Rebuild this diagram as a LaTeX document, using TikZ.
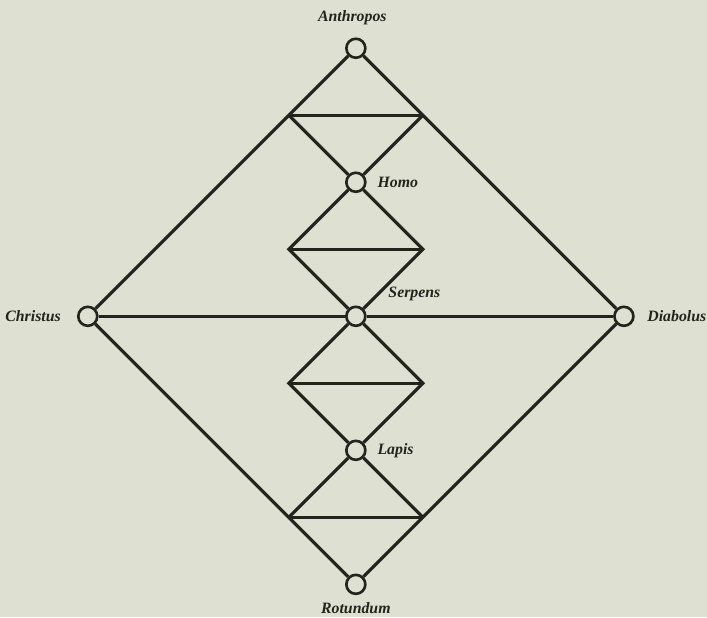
\documentclass[tikz,border=0pt]{standalone}
\usepackage{xcolor}
\usepackage{fontspec}
\setmainfont{Liberation Serif}
\usepackage{tikz}
\usetikzlibrary{positioning}
\definecolor{paper}{RGB}{222,224,210}
\definecolor{ink}{RGB}{36,36,30}

\begin{document}
\begin{tikzpicture}[x=1.34cm, y=1.34cm,
    point/.style={circle, draw=ink, fill=paper, line width=1.5pt, minimum size=0.38cm, inner sep=0pt},
    lbl/.style={font=\fontsize{9}{10}\selectfont\bfseries\itshape, text=ink, inner sep=1pt},
    edge/.style={line width=1.8pt, color=ink}
]
\fill[paper] (-5.31,-4.49) rectangle (5.24,4.72);
\useasboundingbox (-5.31,-4.49) rectangle (5.24,4.72);

\node[point] (anth)   at (0,4)  {};
\node[point] (homo)   at (0,2)  {};
\node[point] (serp)   at (0,0)  {};
\node[point] (lapis)  at (0,-2) {};
\node[point] (rotund) at (0,-4) {};
\node[point] (christ) at (-4,0) {};
\node[point] (diab)   at (4,0)  {};

\coordinate (tl)  at (-1,3);
\coordinate (tr)  at (1,3);
\coordinate (ml1) at (-1,1);
\coordinate (mr1) at (1,1);
\coordinate (ml2) at (-1,-1);
\coordinate (mr2) at (1,-1);
\coordinate (bl)  at (-1,-3);
\coordinate (br)  at (1,-3);

% outer diamond
\draw[edge] (anth) -- (tl) -- (christ);
\draw[edge] (anth) -- (tr) -- (diab);
\draw[edge] (christ) -- (bl) -- (rotund);
\draw[edge] (diab) -- (br) -- (rotund);
\draw[edge] (christ) -- (serp);
\draw[edge] (serp) -- (diab);

% inner chain
\draw[edge] (tl) -- (tr);
\draw[edge] (tl) -- (homo);
\draw[edge] (tr) -- (homo);
\draw[edge] (homo) -- (ml1) -- (serp);
\draw[edge] (homo) -- (mr1) -- (serp);
\draw[edge] (ml1) -- (mr1);
\draw[edge] (serp) -- (ml2) -- (lapis);
\draw[edge] (serp) -- (mr2) -- (lapis);
\draw[edge] (ml2) -- (mr2);
\draw[edge] (lapis) -- (bl);
\draw[edge] (lapis) -- (br);
\draw[edge] (bl) -- (br);

\node[lbl, above=6pt of anth, xshift=-2pt] (anthtxt) {Anthropos};
\node[lbl, right=5pt of homo] (homotxt) {Homo};
\node[lbl, above right=3pt and 13pt of serp] (serptxt) {Serpens};
\node[lbl, right=5pt of lapis] (lapistxt) {Lapis};
\node[lbl, below=3pt of rotund] (rotundtxt) {Rotundum};
\node[lbl, left=8pt of christ] (christtxt) {Christus};
\node[lbl, right=6pt of diab] (diabtxt) {Diabolus};
\end{tikzpicture}
\end{document}
